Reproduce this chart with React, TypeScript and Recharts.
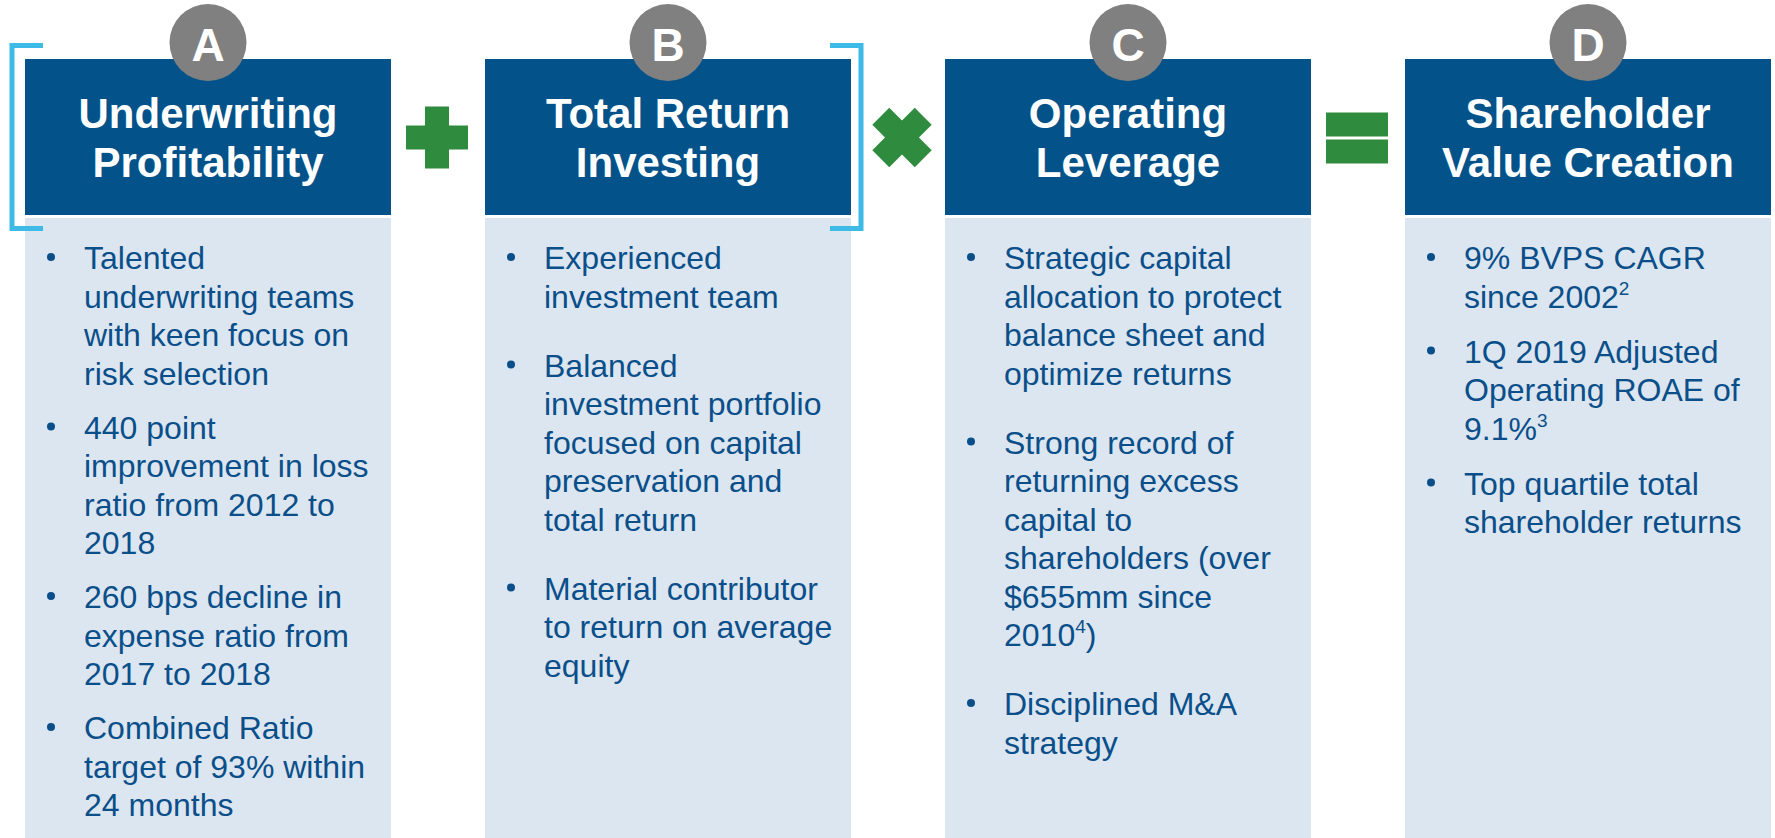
import React from "react";
import { BarChart, Bar, XAxis, YAxis } from "recharts";

// four building blocks of the formula, left to right
const letters = ["A", "B", "C", "D"];
const panelValues = [1, 1, 1, 1];
const headings = [
  ["Underwriting", "Profitability"],
  ["Total Return", "Investing"],
  ["Operating", "Leverage"],
  ["Shareholder", "Value Creation"],
];
const operators = ["+", "×", "=", ""];
// "^n" marks a footnote superscript
const bulletsA = [
  ["Talented", "underwriting teams", "with keen focus on", "risk selection"],
  ["440 point", "improvement in loss", "ratio from 2012 to", "2018"],
  ["260 bps decline in", "expense ratio from", "2017 to 2018"],
  ["Combined Ratio", "target of 93% within", "24 months"],
];
const bulletsB = [
  ["Experienced", "investment team"],
  ["Balanced", "investment portfolio", "focused on capital", "preservation and", "total return"],
  ["Material contributor", "to return on average", "equity"],
];
const bulletsC = [
  ["Strategic capital", "allocation to protect", "balance sheet and", "optimize returns"],
  ["Strong record of", "returning excess", "capital to", "shareholders (over", "$655mm since", "2010^4)"],
  ["Disciplined M&A", "strategy"],
];
const bulletsD = [
  ["9% BVPS CAGR", "since 2002^2"],
  ["1Q 2019 Adjusted", "Operating ROAE of", "9.1%^3"],
  ["Top quartile total", "shareholder returns"],
];
const bullets = [bulletsA, bulletsB, bulletsC, bulletsD];

const data = letters.map((l, i) => ({
  key: l,
  value: panelValues[i],
  heading: headings[i],
  op: operators[i],
  bullets: bullets[i],
}));

const DARK = "#03538a";
const LIGHT = "#dce6f0";
const TEXT = "#0a4f8a";
const GREEN = "#2f8b3d";
const CYAN = "#3dbbe6";
const FONT = "'Liberation Sans', Arial, sans-serif";
const HEADER_H = 156;
const LINE_H = 38.5;
const paraGap = [15.5, 30.5, 30.5, 16.5];

function Line({ text, x, y }: { text: string; x: number; y: number }) {
  const i = text.indexOf("^");
  if (i < 0) {
    return <text x={x} y={y} fill={TEXT} fontSize={32} fontFamily={FONT}>{text}</text>;
  }
  const before = text.slice(0, i);
  const sup = text.slice(i + 1, i + 2);
  const after = text.slice(i + 2);
  return (
    <text x={x} y={y} fill={TEXT} fontSize={32} fontFamily={FONT}>
      <tspan>{before}</tspan>
      <tspan fontSize={19} dy={-13}>{sup}</tspan>
      {after && <tspan dy={13}>{after}</tspan>}
    </text>
  );
}

function Operator({ op, cx, cy }: { op: string; cx: number; cy: number }) {
  if (op === "+") {
    return (
      <g fill={GREEN}>
        <rect x={cx - 12} y={cy - 31} width={24} height={62} />
        <rect x={cx - 31} y={cy - 12} width={62} height={24} />
      </g>
    );
  }
  if (op === "×") {
    return (
      <g fill={GREEN} transform={`translate(${cx},${cy}) rotate(45)`}>
        <rect x={-12} y={-30} width={24} height={60} />
        <rect x={-30} y={-12} width={60} height={24} />
      </g>
    );
  }
  if (op === "=") {
    return (
      <g fill={GREEN}>
        <rect x={cx - 31} y={cy - 25} width={62} height={24} />
        <rect x={cx - 31} y={cy + 2} width={62} height={24} />
      </g>
    );
  }
  return null;
}

function PanelShape(props: any) {
  const { x, y, width, height, index, payload } = props;
  const cx = x + width / 2;
  const lines: React.ReactNode[] = [];
  let by = y + 210;
  payload.bullets.forEach((para: string[], pi: number) => {
    lines.push(<circle key={`b${pi}`} cx={x + 26} cy={by - 12} r={4} fill={TEXT} />);
    para.forEach((t, li) => {
      lines.push(<Line key={`l${pi}-${li}`} text={t} x={x + 59} y={by} />);
      by += LINE_H;
    });
    by += paraGap[index];
  });
  const opOffset = payload.op === "×" ? 51 : 46;
  return (
    <g>
      <rect x={x} y={y} width={width} height={HEADER_H} fill={DARK} />
      <rect x={x} y={y + HEADER_H + 3} width={width} height={height - HEADER_H - 3} fill={LIGHT} />
      {payload.heading.map((h: string, i: number) => (
        <text key={h} x={cx} y={y + 69 + i * 49} textAnchor="middle" fill="#fff"
          fontSize={42} fontWeight="bold" fontFamily={FONT}>{h}</text>
      ))}
      <circle cx={cx} cy={y - 16.5} r={38.5} fill="#808080" />
      <text x={cx} y={y + 2} textAnchor="middle" fill="#fff" fontSize={46}
        fontWeight="bold" fontFamily={FONT}>{payload.key}</text>
      {index === 0 && (
        <path d={`M${x + 18},${y - 13.5} H${x - 13} V${y + 169.5} H${x + 18}`}
          fill="none" stroke={CYAN} strokeWidth={5} />
      )}
      {index === 1 && (
        <path d={`M${x + width - 21},${y - 13.5} H${x + width + 10} V${y + 169.5} H${x + width - 21}`}
          fill="none" stroke={CYAN} strokeWidth={5} />
      )}
      <Operator op={payload.op} cx={x + width + opOffset} cy={y + HEADER_H / 2 + 0.5} />
      {lines}
    </g>
  );
}

export default function App() {
  return (
    <div style={{ position: "absolute", left: 0, top: 0, width: 1775, height: 838, overflow: "hidden", background: "#fff" }}>
      <div style={{ marginLeft: -22 }}>
        <BarChart width={1840} height={838} data={data}
          margin={{ top: 59, right: 0, bottom: 0, left: 0 }} barSize={366}>
          <XAxis dataKey="key" hide />
          <YAxis hide domain={[0, 1]} />
          <Bar dataKey="value" isAnimationActive={false} shape={PanelShape} />
        </BarChart>
      </div>
    </div>
  );
}
